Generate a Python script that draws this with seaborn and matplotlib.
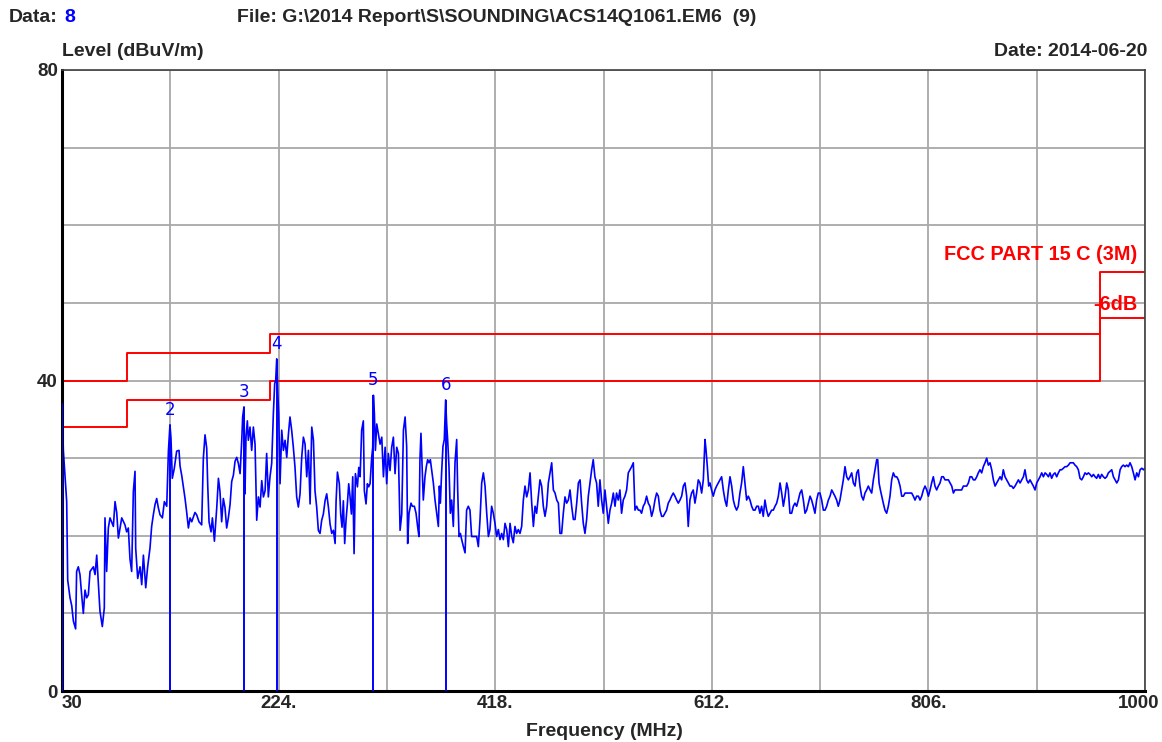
import numpy as np
import pandas as pd
import matplotlib
matplotlib.use("Agg")
import matplotlib.pyplot as plt
from matplotlib.transforms import ScaledTranslation
import seaborn as sns

# ---------------- data ----------------
# measured trace (MHz, dBuV/m), read from the picture band by band
freq_a = [30.0, 31.2, 34.2, 35.1, 37.2, 38.7, 40.2, 42.2, 43.1, 44.6, 46.1, 47.6, 49.1, 50.6, 52.1, 53.6,
          55.1, 58.1, 59.6, 61.1, 62.5, 64.0, 66.1, 67.9, 68.5, 70.0, 71.5, 73.0, 76.0, 77.5, 79.0, 80.5,
          83.5, 86.4, 87.9, 89.4, 90.9, 92.4, 93.9, 95.4, 96.0, 97.8, 99.9, 101.4, 102.9, 105.0, 106.7,
          108.8, 110.3, 111.8, 113.3, 114.8, 116.3, 117.8, 119.9, 121.7, 123.8, 125.3, 126.7, 127.6, 128.8,
          130.6, 132.7, 134.8, 135.7, 137.2, 140.2, 141.7, 143.2, 144.7, 146.2, 149.1, 150.6, 152.7, 155.1,
          156.6, 158.1, 159.6, 160.5, 161.7, 163.5, 164.7, 166.5, 168.6, 170.1, 171.5, 173.0, 174.5, 176.0,
          177.5, 179.0, 180.5, 182.0, 183.5, 185.0]
level_a = [37.1, 31.0, 24.4, 14.3, 12.0, 11.0, 9.0, 8.0, 15.4, 16.0, 15.0, 12.4, 10.0, 13.0, 12.0, 12.4,
           15.4, 16.0, 15.0, 17.5, 14.0, 10.3, 8.3, 10.7, 22.3, 15.4, 21.0, 22.3, 21.2, 24.4, 23.0, 19.7,
           22.3, 21.4, 20.5, 21.0, 17.0, 15.4, 25.7, 28.3, 18.4, 14.5, 16.0, 13.7, 17.5, 13.3, 16.0,
           18.4, 21.2, 22.7, 24.0, 24.8, 23.6, 22.7, 22.3, 24.4, 23.8, 30.9, 34.3, 32.6, 27.4,
           28.7, 30.9, 31.0, 29.0, 27.8, 24.8, 23.0, 21.0, 22.3, 21.8, 23.0, 22.7, 21.8, 21.4,
           30.0, 33.0, 31.3, 26.6, 21.8, 20.5, 22.3, 19.3, 23.6, 27.4, 25.7, 21.8, 24.8, 23.6,
           21.0, 22.3, 24.0, 27.0, 27.8, 29.6]

freq_b = [186.5, 188.0, 189.5, 191.0, 191.8, 193.0, 193.9, 194.8, 196.0, 196.9, 198.4, 199.9, 201.4, 202.9,
          204.4, 205.9, 207.4, 208.9, 210.4, 211.9, 213.3, 214.8, 216.3, 217.8, 219.3, 220.5, 221.4, 222.3,
          223.2, 224.1, 225.3, 226.8, 228.3, 229.8, 231.3, 232.8, 234.2, 235.7, 237.2, 238.7, 240.2, 241.7,
          243.2, 244.7, 246.2, 247.7, 249.2, 250.7, 252.2, 253.7, 255.2, 256.6, 258.1, 259.6, 261.1, 262.6,
          264.1, 265.6, 267.1, 268.6, 270.1, 271.6, 273.1, 274.6, 275.5, 276.7, 278.4, 279.6, 280.8, 282.0,
          283.2, 284.4, 285.6, 286.8, 288.0, 289.2, 290.4, 291.6, 292.8, 294.6, 295.8, 297.0, 298.4, 299.9,
          300.8, 302.3, 303.5, 304.7, 305.9, 307.4, 308.3, 308.9, 309.8, 310.7, 311.9, 313.4, 314.9, 316.4,
          317.9, 319.4, 320.8, 322.3, 323.8, 325.3, 326.8, 328.3, 329.8, 331.3, 332.8, 334.3, 335.8, 337.3]
level_b = [30.1, 29.3, 28.0, 32.3, 35.3, 36.6, 25.4, 32.7, 34.8, 32.3, 34.0, 31.0, 34.0, 31.8,
           22.0, 25.0, 23.7, 27.1, 25.0, 25.8, 30.6, 25.0, 27.6, 29.3, 35.7, 39.6, 40.0, 42.8,
           38.7, 35.7, 26.7, 33.6, 31.0, 32.3, 30.1, 33.1, 35.3, 33.6, 31.4, 28.8, 25.0, 23.7,
           25.4, 30.1, 32.7, 31.8, 27.6, 31.0, 24.1, 34.0, 32.3, 25.8, 23.7, 20.7, 20.3, 22.0,
           22.8, 24.5, 25.4, 23.7, 21.5, 20.3, 20.7, 19.0, 24.5, 28.2, 26.7, 22.8, 21.1, 24.5,
           19.0, 22.0, 24.1, 26.7, 25.0, 22.8, 27.6, 17.7, 28.0, 26.3, 28.8, 27.6, 33.6, 34.8,
           25.8, 24.1, 26.7, 26.3, 26.7, 30.1, 31.4, 38.1, 35.7, 31.0, 34.4, 33.1, 31.8, 32.7,
           27.6, 31.4, 26.7, 30.6, 28.4, 31.4, 32.7, 28.0, 31.4, 30.6, 20.7, 22.8, 33.6, 35.3]

freq_c = [338.7, 339.6, 340.8, 342.6, 343.8, 345.6, 347.1, 348.5, 349.7, 350.6, 351.5, 352.7, 353.6, 355.1,
          356.3, 357.5, 358.7, 359.9, 361.1, 362.6, 364.1, 365.6, 367.1, 368.0, 368.9, 370.0, 371.2, 372.4,
          373.6, 374.5, 375.4, 376.6, 377.8, 379.0, 380.5, 382.0, 383.5, 384.4, 385.6, 386.8, 388.0, 389.5,
          391.0, 392.4, 393.9, 395.4, 396.9, 398.4, 399.9, 401.4, 402.9, 404.4, 405.9, 407.4, 408.9, 410.4,
          411.9, 413.3, 414.8, 416.3, 417.8, 419.3, 420.8, 422.3, 423.8, 425.3, 426.8, 428.3, 429.8, 431.3,
          432.8, 434.2, 435.7, 437.2, 438.7, 440.2, 441.7, 443.2, 444.7, 446.2, 447.7, 449.2, 450.7, 452.2,
          453.7, 455.1, 456.6, 458.1, 459.6, 461.1, 462.6, 464.1, 465.6, 467.1, 468.6, 470.1, 471.6, 473.1,
          474.6, 476.0, 477.5, 479.0, 480.5, 482.0, 483.5, 485.0, 486.5, 488.0, 489.5, 491.0, 492.5, 494.0]
level_c = [31.5, 19.0, 22.9, 24.2, 23.8, 23.8, 22.9, 21.2, 19.9, 29.8, 33.2, 28.1, 24.6, 27.6,
           28.9, 29.8, 29.4, 29.8, 28.5, 26.8, 24.6, 22.9, 21.2, 26.4, 24.2, 28.1, 31.5, 32.4,
           37.5, 34.5, 32.4, 28.9, 22.9, 24.6, 21.2, 29.4, 32.4, 25.9, 19.9, 20.3, 19.5, 18.6,
           17.8, 23.3, 23.8, 23.3, 19.9, 19.9, 19.9, 19.9, 18.6, 22.1, 26.8, 28.1, 26.4, 22.9,
           19.9, 20.8, 23.8, 22.9, 21.6, 19.9, 20.8, 19.5, 20.3, 19.5, 21.6, 20.8, 18.6, 21.6,
           19.9, 19.1, 21.2, 20.3, 20.8, 20.3, 21.2, 24.6, 26.4, 25.0, 25.9, 28.1, 24.2, 21.2,
           23.8, 22.9, 25.0, 27.2, 26.4, 23.8, 22.5, 23.8, 26.8, 28.1, 29.4, 25.9, 25.5, 24.6,
           24.2, 20.3, 20.3, 22.9, 25.0, 24.2, 24.6, 25.9, 23.8, 22.1, 22.1, 24.2, 26.8, 27.2]

freq_d = [495.4, 496.9, 498.4, 499.9, 501.4, 502.9, 504.4, 505.8, 507.3, 508.8, 510.3, 511.8, 513.3, 514.8,
          516.3, 517.8, 519.3, 520.8, 522.3, 523.8, 525.3, 526.7, 528.2, 529.7, 531.2, 532.7, 534.2, 535.7,
          537.2, 538.7, 540.2, 541.7, 543.2, 544.7, 546.2, 547.6, 549.1, 550.6, 552.1, 553.6, 555.1, 556.6,
          558.1, 559.6, 561.1, 562.6, 564.1, 565.6, 567.1, 568.5, 570.0, 571.5, 573.0, 574.5, 576.0, 577.5,
          579.0, 580.5, 582.0, 583.5, 585.0, 586.5, 588.0, 589.5, 590.9, 592.4, 593.9, 595.4, 596.9, 598.4,
          599.9, 601.4, 602.9, 604.4, 605.9, 606.8, 608.0, 609.2, 610.4, 611.8, 613.3, 614.8, 616.3, 617.8,
          619.3, 620.8, 622.3, 623.8, 625.3, 626.8, 628.3, 629.8, 631.3, 632.7, 634.2, 635.7, 637.2, 638.7,
          640.2, 641.7, 643.2, 644.7, 646.2, 647.7, 649.2, 650.7, 652.2, 653.7, 655.1, 656.6, 658.1, 659.6,
          661.1, 662.6, 664.1, 665.6, 667.1, 668.6]
level_d = [24.2, 21.6, 20.3, 22.1, 25.1, 26.8, 28.5, 29.8, 27.6, 26.8, 23.8, 27.2, 24.6, 22.9,
           25.9, 23.8, 21.6, 23.3, 24.2, 25.5, 23.8, 25.5, 24.6, 25.9, 22.9, 24.6, 25.1, 25.9,
           28.1, 28.5, 28.9, 29.4, 23.3, 23.8, 23.3, 23.3, 22.9, 23.8, 24.2, 25.1, 24.2, 23.8,
           22.5, 23.3, 24.6, 25.5, 25.1, 23.3, 22.5, 22.5, 22.9, 23.3, 24.2, 24.6, 25.1, 25.5,
           25.1, 24.6, 24.2, 24.6, 25.1, 26.4, 26.8, 25.1, 21.2, 24.6, 25.5, 25.9, 24.2, 25.5,
           27.2, 26.8, 25.5, 27.2, 32.4, 31.1, 28.9, 26.4, 26.8, 25.9, 25.1, 25.9, 26.4, 26.8,
           27.2, 27.6, 25.9, 24.6, 23.8, 25.9, 27.6, 26.4, 24.6, 23.8, 23.3, 23.8, 25.5, 26.8,
           28.9, 26.8, 24.6, 25.1, 24.6, 23.8, 23.3, 23.3, 23.8, 23.8, 22.9, 23.8, 22.5, 24.6,
           23.3, 22.5, 22.9, 23.3, 23.3, 23.8]

freq_e = [670.1, 671.6, 673.1, 674.6, 676.1, 677.6, 679.1, 680.5, 682.0, 683.5, 685.0, 686.5, 688.0, 689.5,
          691.0, 692.5, 694.0, 695.5, 697.0, 698.5, 700.0, 701.4, 702.9, 704.4, 705.9, 707.4, 708.9, 710.4,
          711.9, 713.4, 714.9, 716.4, 717.9, 719.4, 720.9, 722.3, 723.8, 725.3, 726.8, 728.3, 729.8, 731.3,
          732.8, 734.3, 735.8, 737.3, 738.8, 740.3, 741.8, 743.2, 744.7, 746.2, 747.7, 749.2, 750.7, 752.2,
          753.7, 755.2, 756.7, 758.2, 759.7, 760.6, 761.8, 763.0, 764.2, 765.6, 767.1, 768.6, 770.1, 771.6,
          773.1, 774.6, 776.1, 777.6, 779.1, 780.6, 782.1, 783.6, 785.1, 786.5, 788.0, 789.5, 791.0, 792.5,
          794.0, 795.5, 797.0, 798.5, 800.0, 801.5, 803.0, 804.5, 806.0, 807.5, 808.9, 810.4, 811.9, 813.4,
          814.9, 816.4, 817.9, 819.4, 820.9, 822.4, 823.9, 825.4, 826.9, 828.4, 829.8, 831.3, 832.8, 834.3,
          835.8, 837.3, 838.8, 840.3, 841.8, 843.3, 844.8, 846.3, 847.8]
level_e = [24.2, 25.1, 26.8, 25.5, 23.8, 25.1, 26.8, 25.9, 22.9, 22.9, 23.8, 24.2, 23.8, 24.6,
           25.5, 25.9, 24.6, 22.9, 23.3, 24.2, 25.1, 24.6, 23.8, 22.9, 24.6, 25.5, 25.5, 24.6,
           23.3, 23.3, 23.8, 24.6, 25.1, 25.9, 25.5, 25.1, 24.6, 23.8, 24.6, 25.9, 27.2, 28.9,
           27.6, 27.2, 27.6, 28.1, 26.8, 26.4, 28.1, 28.5, 26.4, 25.1, 24.6, 25.5, 25.9, 26.4,
           25.9, 25.5, 27.2, 28.5, 29.8, 29.8, 26.8, 25.9, 25.1, 24.2, 23.3, 22.9, 23.8, 25.1,
           27.2, 28.1, 27.6, 27.6, 27.2, 26.4, 25.1, 25.1, 25.5, 25.5, 25.5, 25.5, 25.5, 25.1,
           24.6, 25.1, 25.1, 24.6, 25.1, 25.9, 26.4, 25.9, 25.1, 25.9, 26.8, 27.6, 26.4, 25.9,
           26.4, 26.8, 27.6, 27.6, 27.2, 27.2, 27.2, 26.8, 26.4, 25.5, 25.9, 25.9, 25.9, 25.9,
           25.9, 26.4, 26.4, 26.4, 26.8, 27.6, 27.6, 27.2, 27.2]

freq_f = [849.3, 850.7, 852.2, 853.7, 855.2, 856.7, 858.2, 859.7, 861.2, 862.7, 864.2, 865.7, 867.2, 868.7,
          870.2, 871.6, 873.1, 874.6, 876.1, 877.6, 879.1, 880.6, 882.1, 883.6, 885.1, 886.6, 888.1, 889.6,
          891.1, 892.5, 894.0, 895.5, 897.0, 898.5, 900.0, 901.5, 903.0, 904.5, 906.0, 907.5, 909.0, 910.5,
          912.0, 913.5, 914.9, 916.4, 917.9, 919.4, 920.9, 922.4, 923.9, 925.4, 926.9, 928.4, 929.9, 931.4,
          932.9, 934.4, 935.8, 937.3, 938.8, 940.3, 941.8, 943.3, 944.8, 946.3, 947.8, 949.3, 950.8, 952.3,
          953.8, 955.3, 956.7, 958.2, 959.7, 961.2, 962.7, 964.2, 965.7, 967.2, 968.7, 970.2, 971.7, 973.2,
          974.7, 976.2, 977.7, 979.1, 980.6, 982.1, 983.6, 985.1, 986.6, 988.1, 989.6, 991.1, 992.6, 994.1,
          995.6, 997.1, 998.6, 1000.0]
level_f = [27.6, 28.1, 28.5, 28.1, 28.9, 29.4, 30.0, 29.1, 29.4, 28.5, 27.2, 26.4, 26.8, 27.2,
           27.6, 27.2, 28.5, 27.6, 27.2, 26.8, 26.4, 26.4, 26.1, 26.4, 26.8, 27.2, 26.8, 27.2,
           27.6, 28.5, 27.2, 26.8, 27.2, 26.8, 26.4, 25.9, 26.8, 27.2, 27.6, 28.1, 27.6, 28.1,
           27.9, 27.6, 28.1, 27.4, 27.9, 28.1, 27.6, 28.1, 28.5, 28.5, 28.7, 28.9, 28.9, 29.1,
           29.4, 29.4, 29.4, 29.1, 28.9, 28.5, 27.4, 27.2, 27.6, 28.1, 27.9, 28.1, 27.9, 27.6,
           27.9, 27.6, 27.4, 27.9, 27.4, 27.9, 27.6, 27.4, 27.6, 28.1, 28.3, 28.5, 27.6, 27.2,
           26.8, 27.2, 28.5, 28.9, 29.1, 28.9, 29.1, 28.9, 29.4, 28.9, 28.1, 27.2, 28.1, 27.6,
           28.5, 28.7, 28.5, 28.7]

# limit lines (FCC Part 15 C, 3 m) and the -6 dB margin line
limit_freq = [30, 88, 216, 960, 1000]
limit_level = [40, 43.5, 46, 54, 54]
margin_level = [34, 37.5, 40, 48, 48]

# markers
marker_ids = ["1", "2", "3", "4", "5", "6"]
marker_freq = [30.0, 126.7, 193.0, 222.3, 308.9, 373.6]
marker_level = [37.1, 34.3, 36.6, 42.8, 38.1, 37.5]

# axis ticks
x_grid = [30, 127, 224, 321, 418, 515, 612, 709, 806, 903, 1000]
x_labels = ["30", "", "224.", "", "418.", "", "612.", "", "806.", "", "1000"]
y_grid = [0, 10, 20, 30, 40, 50, 60, 70, 80]
y_labels = ["0", "", "", "", "40", "", "", "", "80"]

# ---------------- plot ----------------
sns.set_style("white")
plt.rcParams["font.family"] = ["Liberation Sans", "DejaVu Sans"]

trace = pd.DataFrame({
    "freq": np.concatenate([freq_a, freq_b, freq_c, freq_d, freq_e, freq_f]),
    "level": np.concatenate([level_a, level_b, level_c, level_d, level_e, level_f]),
})
limits = pd.DataFrame({"freq": limit_freq, "limit": limit_level, "margin": margin_level})

fig = plt.figure(figsize=(11.62, 7.42), dpi=100)
ax = fig.add_axes([62 / 1162, 1 - 691 / 742, (1145 - 62) / 1162, (691 - 70) / 742])

ax.set_xlim(30, 1000)
ax.set_ylim(0, 80)
ax.set_xticks(x_grid)
ax.set_yticks(y_grid)
ax.set_xticklabels(x_labels, fontsize=13.5, fontweight="bold")
ax.set_yticklabels(y_labels, fontsize=13.5, fontweight="bold")
ax.tick_params(length=0, pad=3)
lbls = ax.get_xticklabels()
lbls[0].set_horizontalalignment("left")
lbls[-1].set_horizontalalignment("right")
lbls[-1].set_transform(lbls[-1].get_transform() + ScaledTranslation(0.14, 0, fig.dpi_scale_trans))
ax.grid(True, color="#a8a8a8", linewidth=1.3)
ax.set_axisbelow(True)

for side in ["top", "right"]:
    ax.spines[side].set_color("#404040")
    ax.spines[side].set_linewidth(1.2)
for side in ["left", "bottom"]:
    ax.spines[side].set_color("black")
    ax.spines[side].set_linewidth(2.2)

# limit lines
sns.lineplot(data=limits, x="freq", y="limit", ax=ax, color="#ff0000", linewidth=1.4,
             drawstyle="steps-post", sort=False)
sns.lineplot(data=limits, x="freq", y="margin", ax=ax, color="#ff0000", linewidth=1.4,
             drawstyle="steps-post", sort=False)

# marker lines
ax.vlines(marker_freq, 0, marker_level, color="#0000ff", linewidth=1.4, zorder=3)

# trace
sns.lineplot(data=trace, x="freq", y="level", ax=ax, color="#0000ff", linewidth=1.2, sort=False)

for mid, mf, ml in zip(marker_ids, marker_freq, marker_level):
    if mid == "1":
        continue
    ax.text(mf, ml + 0.8, mid, color="#0000ff", fontsize=12, ha="center", va="bottom",
            family=["DejaVu Sans"])

ax.set_xlabel("")
ax.set_ylabel("")

# red annotations
ax.text(993, 55.0, "FCC PART 15 C (3M)", color="#ff0000", fontsize=14.3, fontweight="bold",
        ha="right", va="bottom")
ax.text(993, 48.6, "-6dB", color="#ff0000", fontsize=14.3, fontweight="bold",
        ha="right", va="bottom")

# header texts
fig.text(9 / 1162, 1 - 17 / 742, "Data:", fontsize=14, fontweight="bold", va="center")
fig.text(64 / 1162, 1 - 17 / 742, "8", fontsize=14, fontweight="bold", va="center", color="#0000ff")
fig.text(237 / 1162, 1 - 17 / 742, "File: G:\\2014 Report\\S\\SOUNDING\\ACS14Q1061.EM6  (9)",
         fontsize=14, fontweight="bold", va="center")
fig.text(62 / 1162, 1 - 52 / 742, "Level (dBuV/m)", fontsize=14, fontweight="bold", va="center")
fig.text(1147 / 1162, 1 - 52 / 742, "Date: 2014-06-20", fontsize=14, fontweight="bold",
         va="center", ha="right")
fig.text(604 / 1162, 1 - 731 / 742, "Frequency (MHz)", fontsize=14, fontweight="bold",
         va="center", ha="center")

fig.savefig("out.png", dpi=100)
